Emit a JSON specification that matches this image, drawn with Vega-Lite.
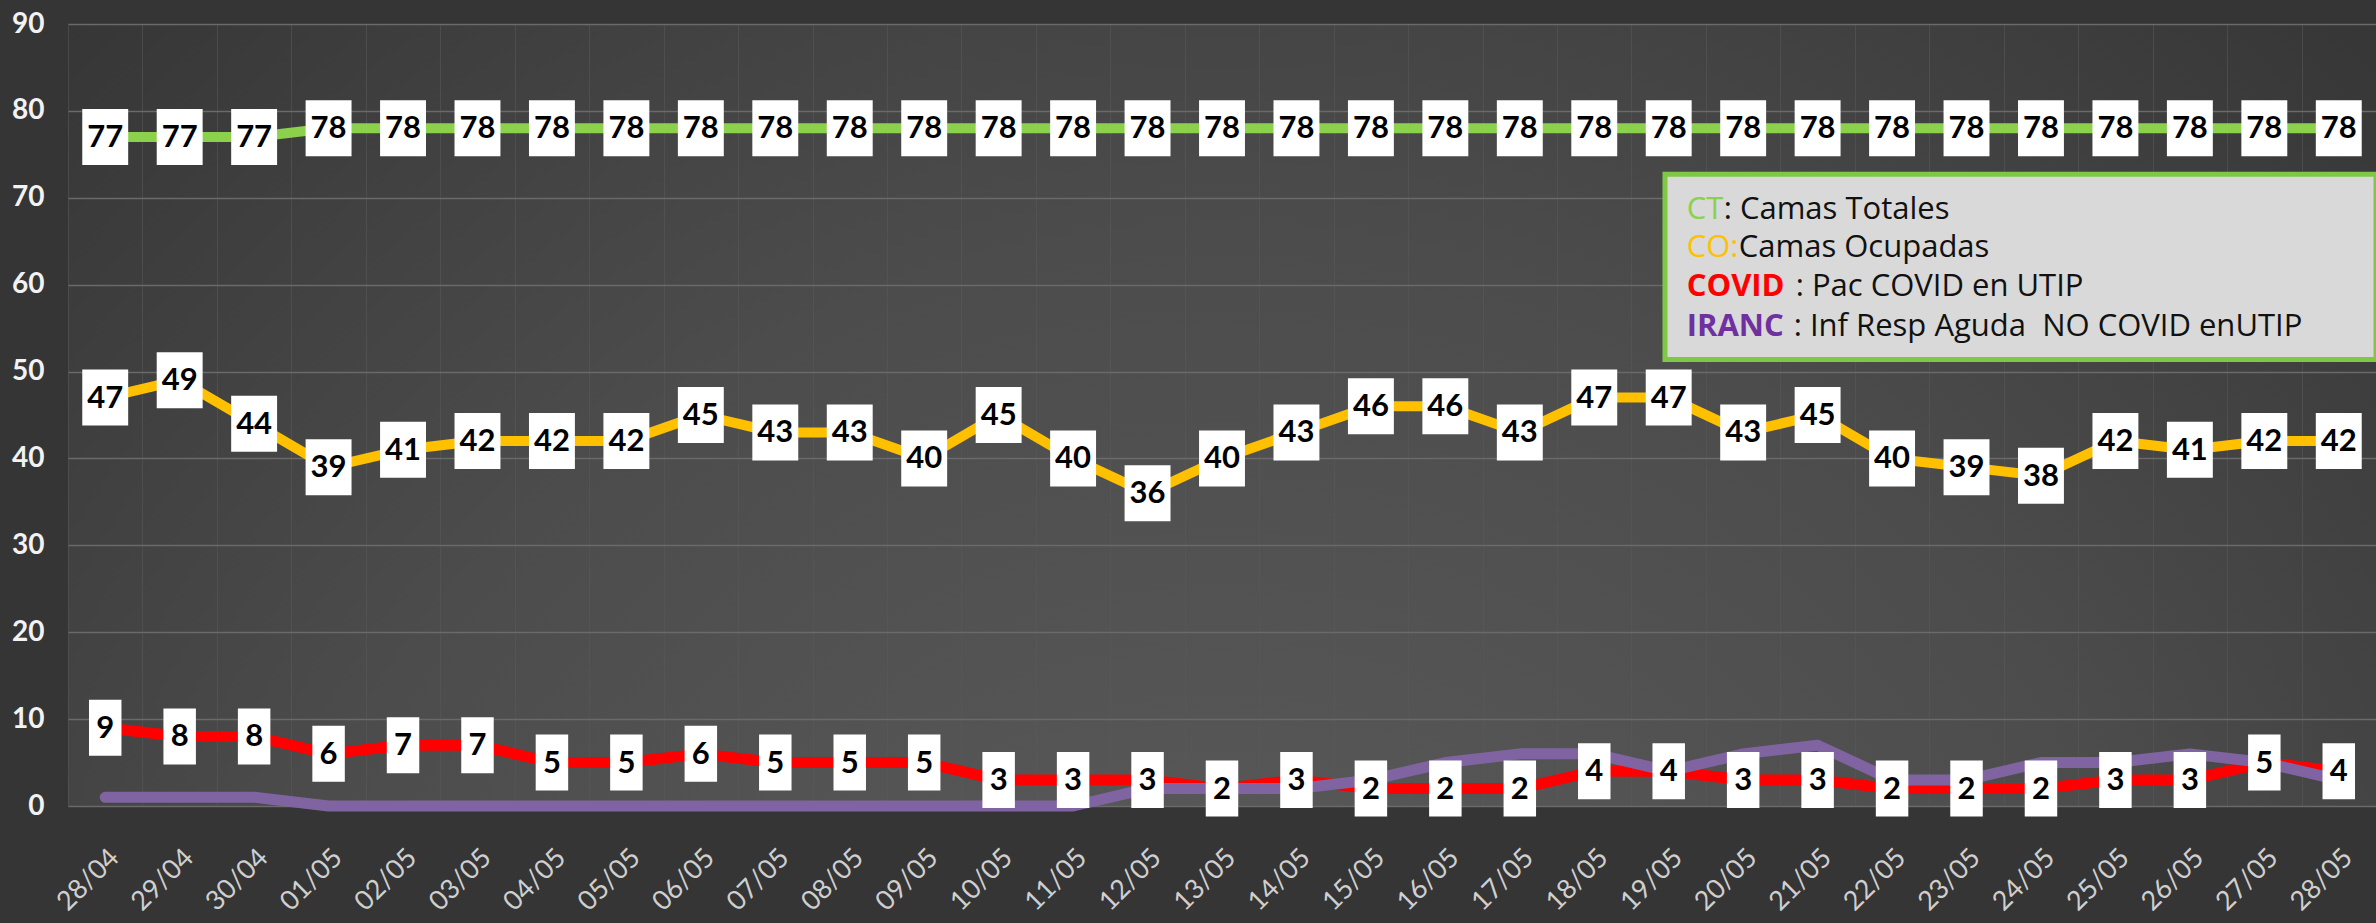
{
  "$schema": "https://vega.github.io/schema/vega-lite/v6.json",
  "autosize": {"type": "none"},
  "width": 2308,
  "height": 782,
  "padding": {"left": 68, "top": 24, "right": 0, "bottom": 117},
  "background": "#353535",
  "config": {
    "view": {
      "stroke": null,
      "fill": {
        "gradient": "radial",
        "x1": 0.5, "y1": 0.85, "r1": 0,
        "x2": 0.5, "y2": 0.85, "r2": 0.95,
        "stops": [
          {"offset": 0, "color": "#5e5e5e"},
          {"offset": 0.45, "color": "#4c4c4c"},
          {"offset": 1, "color": "#252525"}
        ]
      }
    },
    "axis": {"domain": false, "ticks": false, "labelFont": "Lato"}
  },
  "datasets": {
    "camas": [
      {"fecha": "28/04", "CT": 77, "CO": 47, "COVID": 9, "IRANC": 1},
      {"fecha": "29/04", "CT": 77, "CO": 49, "COVID": 8, "IRANC": 1},
      {"fecha": "30/04", "CT": 77, "CO": 44, "COVID": 8, "IRANC": 1},
      {"fecha": "01/05", "CT": 78, "CO": 39, "COVID": 6, "IRANC": 0},
      {"fecha": "02/05", "CT": 78, "CO": 41, "COVID": 7, "IRANC": 0},
      {"fecha": "03/05", "CT": 78, "CO": 42, "COVID": 7, "IRANC": 0},
      {"fecha": "04/05", "CT": 78, "CO": 42, "COVID": 5, "IRANC": 0},
      {"fecha": "05/05", "CT": 78, "CO": 42, "COVID": 5, "IRANC": 0},
      {"fecha": "06/05", "CT": 78, "CO": 45, "COVID": 6, "IRANC": 0},
      {"fecha": "07/05", "CT": 78, "CO": 43, "COVID": 5, "IRANC": 0},
      {"fecha": "08/05", "CT": 78, "CO": 43, "COVID": 5, "IRANC": 0},
      {"fecha": "09/05", "CT": 78, "CO": 40, "COVID": 5, "IRANC": 0},
      {"fecha": "10/05", "CT": 78, "CO": 45, "COVID": 3, "IRANC": 0},
      {"fecha": "11/05", "CT": 78, "CO": 40, "COVID": 3, "IRANC": 0},
      {"fecha": "12/05", "CT": 78, "CO": 36, "COVID": 3, "IRANC": 2},
      {"fecha": "13/05", "CT": 78, "CO": 40, "COVID": 2, "IRANC": 2},
      {"fecha": "14/05", "CT": 78, "CO": 43, "COVID": 3, "IRANC": 2},
      {"fecha": "15/05", "CT": 78, "CO": 46, "COVID": 2, "IRANC": 3},
      {"fecha": "16/05", "CT": 78, "CO": 46, "COVID": 2, "IRANC": 5},
      {"fecha": "17/05", "CT": 78, "CO": 43, "COVID": 2, "IRANC": 6},
      {"fecha": "18/05", "CT": 78, "CO": 47, "COVID": 4, "IRANC": 6},
      {"fecha": "19/05", "CT": 78, "CO": 47, "COVID": 4, "IRANC": 4},
      {"fecha": "20/05", "CT": 78, "CO": 43, "COVID": 3, "IRANC": 6},
      {"fecha": "21/05", "CT": 78, "CO": 45, "COVID": 3, "IRANC": 7},
      {"fecha": "22/05", "CT": 78, "CO": 40, "COVID": 2, "IRANC": 3},
      {"fecha": "23/05", "CT": 78, "CO": 39, "COVID": 2, "IRANC": 3},
      {"fecha": "24/05", "CT": 78, "CO": 38, "COVID": 2, "IRANC": 5},
      {"fecha": "25/05", "CT": 78, "CO": 42, "COVID": 3, "IRANC": 5},
      {"fecha": "26/05", "CT": 78, "CO": 41, "COVID": 3, "IRANC": 6},
      {"fecha": "27/05", "CT": 78, "CO": 42, "COVID": 5, "IRANC": 5},
      {"fecha": "28/05", "CT": 78, "CO": 42, "COVID": 4, "IRANC": 3}
    ]
  },
  "data": {"name": "camas"},
  "layer": [
    {
      "mark": {"type": "line", "color": "#8BD14B", "strokeWidth": 10, "strokeCap": "round", "strokeJoin": "round"},
      "encoding": {
        "x": {
          "field": "fecha", "type": "nominal", "bandPosition": 0.5,
          "scale": {"type": "band", "paddingInner": 0, "paddingOuter": 0,
            "domain": ["28/04","29/04","30/04","01/05","02/05","03/05","04/05","05/05","06/05","07/05","08/05","09/05","10/05","11/05","12/05","13/05","14/05","15/05","16/05","17/05","18/05","19/05","20/05","21/05","22/05","23/05","24/05","25/05","26/05","27/05","28/05"]},
          "axis": {"title": null, "labelAngle": -45, "labelFontSize": 27, "labelColor": "#cfcfcf", "labelPadding": 38, "tickBand": "extent", "grid": true, "gridColor": "#5a5a5a", "gridOpacity": 0.55, "gridWidth": 1}
        },
        "y": {
          "field": "CT", "type": "quantitative",
          "scale": {"domain": [0, 90], "nice": false},
          "axis": {"title": null, "values": [0,10,20,30,40,50,60,70,80,90], "labelFontSize": 28, "labelFontWeight": "bold", "labelColor": "#f2f2f2", "labelPadding": 24, "grid": true, "gridColor": "#6a6a6a", "gridWidth": 1.5}
        }
      }
    },
    {
      "mark": {"type": "line", "color": "#FFC000", "strokeWidth": 10, "strokeCap": "round", "strokeJoin": "round"},
      "encoding": {
        "x": {"field": "fecha", "type": "nominal", "bandPosition": 0.5},
        "y": {"field": "CO", "type": "quantitative"}
      }
    },
    {
      "mark": {"type": "line", "color": "#FF0000", "strokeWidth": 11, "strokeCap": "round", "strokeJoin": "round"},
      "encoding": {
        "x": {"field": "fecha", "type": "nominal", "bandPosition": 0.5},
        "y": {"field": "COVID", "type": "quantitative"}
      }
    },
    {
      "mark": {"type": "line", "color": "#8064A2", "strokeWidth": 11, "strokeCap": "round", "strokeJoin": "round"},
      "encoding": {
        "x": {"field": "fecha", "type": "nominal", "bandPosition": 0.5},
        "y": {"field": "IRANC", "type": "quantitative"}
      }
    },
    {
      "transform": [{"fold": ["CT", "CO"], "as": ["serie", "valor"]}],
      "mark": {"type": "point", "shape": "M-0.41,-0.5H0.41V0.5H-0.41Z", "size": 12544, "filled": true, "fill": "#ffffff", "opacity": 1, "strokeWidth": 0},
      "encoding": {
        "x": {"field": "fecha", "type": "nominal", "bandPosition": 0.5},
        "y": {"field": "valor", "type": "quantitative"}
      }
    },
    {
      "mark": {"type": "point", "shape": "M-0.29,-0.5H0.29V0.5H-0.29Z", "size": 12544, "filled": true, "fill": "#ffffff", "opacity": 1, "strokeWidth": 0},
      "encoding": {
        "x": {"field": "fecha", "type": "nominal", "bandPosition": 0.5},
        "y": {"field": "COVID", "type": "quantitative"}
      }
    },
    {
      "transform": [{"fold": ["CT", "CO", "COVID"], "as": ["serie", "valor"]}],
      "mark": {"type": "text", "font": "Lato", "fontWeight": "bold", "fontSize": 31, "color": "#000000", "align": "center", "baseline": "middle", "dy": 1},
      "encoding": {
        "x": {"field": "fecha", "type": "nominal", "bandPosition": 0.5},
        "y": {"field": "valor", "type": "quantitative"},
        "text": {"field": "valor", "type": "quantitative"}
      }
    },
    {
      "data": {"values": [{}]},
      "mark": {"type": "rect", "fill": "#d9d9d9", "stroke": "#7EC846", "strokeWidth": 5},
      "encoding": {
        "x": {"datum": "19/05", "type": "nominal", "bandPosition": 0.45},
        "x2": {"datum": "28/05", "bandPosition": 1},
        "y": {"datum": 72.7, "type": "quantitative"},
        "y2": {"datum": 51.4}
      }
    },
    {
      "data": {"values": [{}]},
      "mark": {"type": "text", "text": "CT", "align": "left", "baseline": "middle", "dx": 18, "font": "Open Sans", "fontSize": 31, "color": "#8BD14B"},
      "encoding": {"x": {"datum": "19/05", "type": "nominal", "bandPosition": 0.5}, "y": {"datum": 68.6, "type": "quantitative"}}
    },
    {
      "data": {"values": [{}]},
      "mark": {"type": "text", "text": ": Camas Totales", "align": "left", "baseline": "middle", "dx": 55, "font": "Open Sans", "fontSize": 31, "color": "#111111"},
      "encoding": {"x": {"datum": "19/05", "type": "nominal", "bandPosition": 0.5}, "y": {"datum": 68.6, "type": "quantitative"}}
    },
    {
      "data": {"values": [{}]},
      "mark": {"type": "text", "text": "CO:", "align": "left", "baseline": "middle", "dx": 18, "font": "Open Sans", "fontSize": 31, "color": "#FFC000"},
      "encoding": {"x": {"datum": "19/05", "type": "nominal", "bandPosition": 0.5}, "y": {"datum": 64.2, "type": "quantitative"}}
    },
    {
      "data": {"values": [{}]},
      "mark": {"type": "text", "text": "Camas Ocupadas", "align": "left", "baseline": "middle", "dx": 70, "font": "Open Sans", "fontSize": 31, "color": "#111111"},
      "encoding": {"x": {"datum": "19/05", "type": "nominal", "bandPosition": 0.5}, "y": {"datum": 64.2, "type": "quantitative"}}
    },
    {
      "data": {"values": [{}]},
      "mark": {"type": "text", "text": "COVID", "align": "left", "baseline": "middle", "dx": 18, "font": "Open Sans", "fontSize": 31, "fontWeight": "bold", "color": "#FF0000"},
      "encoding": {"x": {"datum": "19/05", "type": "nominal", "bandPosition": 0.5}, "y": {"datum": 59.7, "type": "quantitative"}}
    },
    {
      "data": {"values": [{}]},
      "mark": {"type": "text", "text": ": Pac COVID en UTIP", "align": "left", "baseline": "middle", "dx": 127, "font": "Open Sans", "fontSize": 31, "color": "#111111"},
      "encoding": {"x": {"datum": "19/05", "type": "nominal", "bandPosition": 0.5}, "y": {"datum": 59.7, "type": "quantitative"}}
    },
    {
      "data": {"values": [{}]},
      "mark": {"type": "text", "text": "IRANC", "align": "left", "baseline": "middle", "dx": 18, "font": "Open Sans", "fontSize": 31, "fontWeight": "bold", "color": "#7030A0"},
      "encoding": {"x": {"datum": "19/05", "type": "nominal", "bandPosition": 0.5}, "y": {"datum": 55.1, "type": "quantitative"}}
    },
    {
      "data": {"values": [{}]},
      "mark": {"type": "text", "text": ": Inf Resp Aguda\u00a0 NO COVID enUTIP", "align": "left", "baseline": "middle", "dx": 125, "font": "Open Sans", "fontSize": 31, "color": "#111111"},
      "encoding": {"x": {"datum": "19/05", "type": "nominal", "bandPosition": 0.5}, "y": {"datum": 55.1, "type": "quantitative"}}
    }
  ]
}
